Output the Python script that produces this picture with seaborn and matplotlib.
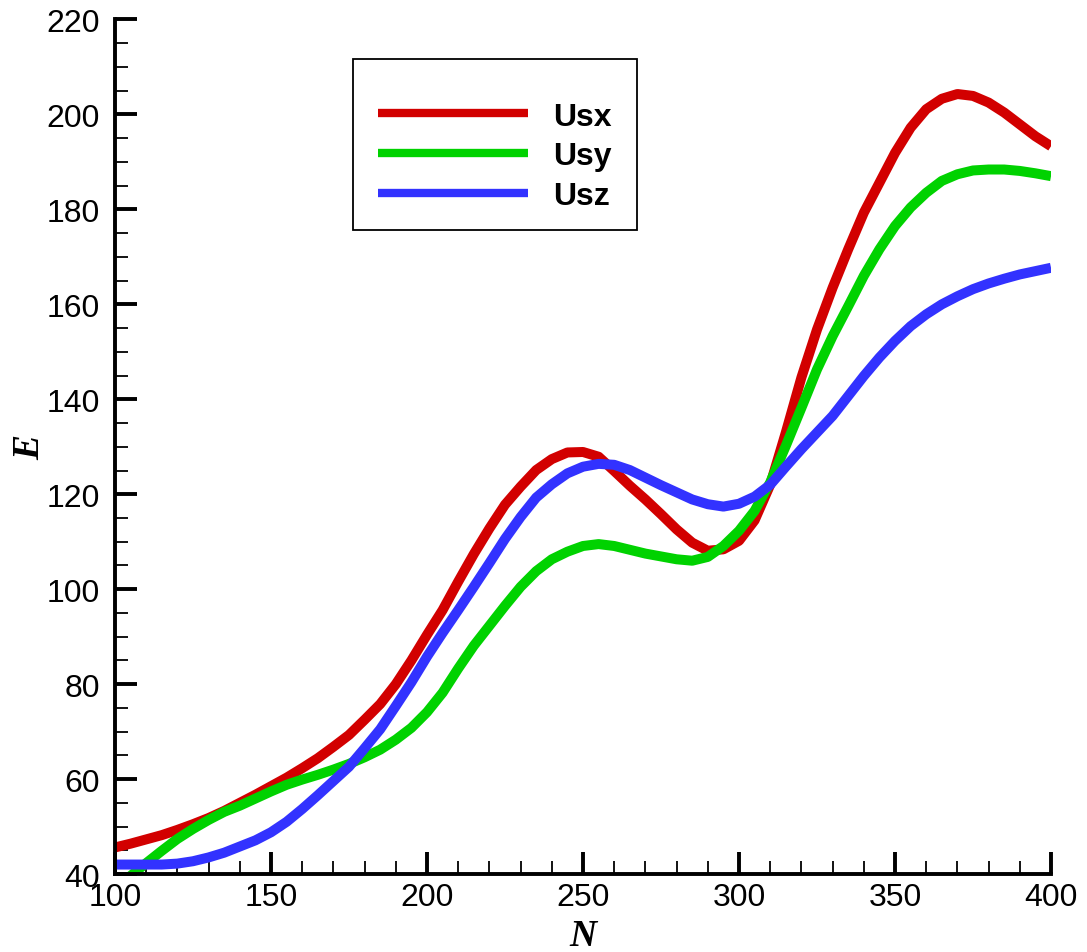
"""Energy E against N for the three Us components."""

import matplotlib
matplotlib.use("Agg")
import matplotlib.pyplot as plt
import numpy as np
import pandas as pd
import seaborn as sns
from matplotlib.patches import Rectangle
from matplotlib.ticker import MultipleLocator


n_values = [100, 105, 110, 115, 120, 125, 130, 135, 140, 145,
            150, 155, 160, 165, 170, 175, 180, 185, 190, 195,
            200, 205, 210, 215, 220, 225, 230, 235, 240, 245,
            250, 255, 260, 265, 270, 275, 280, 285, 290, 295,
            300, 305, 310, 315, 320, 325, 330, 335, 340, 345,
            350, 355, 360, 365, 370, 375, 380, 385, 390, 395, 400]

usx = [45.6, 46.4, 47.3, 48.2, 49.3, 50.5, 51.8, 53.3, 55.0, 56.7,
       58.5, 60.3, 62.3, 64.4, 66.8, 69.3, 72.5, 75.8, 80.0, 85.0,
       90.4, 95.6, 101.6, 107.4, 112.8, 117.8, 121.6, 125.1, 127.4, 128.8,
       128.9, 127.9, 124.9, 121.8, 118.9, 115.8, 112.6, 109.8, 108.1, 108.4,
       110.2, 114.5, 122.0, 133.0, 144.6, 154.7, 163.5, 171.6, 179.3, 185.6,
       191.9, 197.2, 201.1, 203.3, 204.3, 203.9, 202.5, 200.4, 197.9, 195.4, 193.3]

usy = [37.5, 39.6, 42.3, 44.9, 47.4, 49.5, 51.4, 53.1, 54.4, 55.9,
       57.4, 58.8, 59.9, 60.9, 62.0, 63.2, 64.6, 66.2, 68.3, 70.8,
       74.1, 78.2, 83.3, 88.1, 92.3, 96.5, 100.5, 103.8, 106.3, 107.9,
       109.1, 109.5, 109.1, 108.3, 107.5, 106.9, 106.3, 106.0, 106.8, 109.1,
       112.3, 116.5, 122.5, 130.2, 138.2, 146.3, 153.3, 159.6, 166.0, 171.6,
       176.5, 180.4, 183.5, 186.0, 187.4, 188.2, 188.4, 188.4, 188.1, 187.6, 187.0]

usz = [42.0, 42.0, 42.0, 42.0, 42.2, 42.7, 43.5, 44.5, 45.8, 47.1,
       48.8, 51.0, 53.7, 56.6, 59.6, 62.6, 66.5, 70.5, 75.4, 80.4,
       85.8, 90.8, 95.6, 100.5, 105.5, 110.6, 115.2, 119.3, 122.1, 124.4,
       125.8, 126.4, 126.2, 125.1, 123.5, 121.9, 120.4, 118.9, 117.9, 117.4,
       118.0, 119.5, 122.0, 125.8, 129.5, 133.0, 136.5, 140.7, 144.9, 148.8,
       152.3, 155.4, 157.9, 160.0, 161.7, 163.2, 164.4, 165.4, 166.3, 167.0, 167.7]

series_names = ["Usx", "Usy", "Usz"]
series_colors = ["#d20000", "#00d200", "#3232ff"]

df = pd.DataFrame({
    "N": n_values * 3,
    "E": usx + usy + usz,
    "series": np.repeat(series_names, len(n_values)),
})

sns.set_theme(style="ticks", rc={
    "text.color": "black",
    "axes.labelcolor": "black",
    "xtick.color": "black",
    "ytick.color": "black",
    "axes.edgecolor": "black",
})
plt.rcParams["font.family"] = ["Liberation Sans", "DejaVu Sans"]

fig = plt.figure(figsize=(10.87, 9.53), dpi=100)
ax = fig.add_axes([0.1058, 0.0818, 0.8611, 0.8967])

sns.lineplot(data=df, x="N", y="E", hue="series", palette=series_colors,
             hue_order=series_names, linewidth=7.2, ax=ax, legend=False,
             solid_capstyle="butt")

ax.set_xlim(100, 400)
ax.set_ylim(40, 220)
ax.xaxis.set_major_locator(MultipleLocator(50))
ax.xaxis.set_minor_locator(MultipleLocator(10))
ax.yaxis.set_major_locator(MultipleLocator(20))
ax.yaxis.set_minor_locator(MultipleLocator(5))

for side in ["top", "right"]:
    ax.spines[side].set_visible(False)
for side in ["left", "bottom"]:
    ax.spines[side].set_linewidth(2.8)

ax.tick_params(which="both", direction="in", bottom=True, left=True,
               top=False, right=False)
ax.tick_params(which="major", length=16, width=2.8, labelsize=23)
ax.tick_params(which="minor", length=9.5, width=1.3)
ax.tick_params(axis="y", which="major", pad=11)
ax.tick_params(axis="x", which="major", pad=6)

label_font = dict(family="Liberation Serif", style="italic",
                  weight="bold", size=27)
ax.set_xlabel("N", **label_font)
ax.set_ylabel("E", **label_font)
ax.xaxis.set_label_coords(0.5, -0.052)
ax.yaxis.set_label_coords(-0.0727, 0.5)

# legend entries without frame, the box is drawn separately (uneven padding)
handles = [plt.Line2D([], [], color=c, linewidth=6, solid_capstyle="butt")
           for c in series_colors]
ax.legend(handles, series_names, loc="center",
          bbox_to_anchor=(0.406, 0.840), frameon=False,
          handlelength=4.67, handletextpad=0.8, labelspacing=0.3,
          prop=dict(family="Liberation Sans", weight="bold", size=23))
ax.add_patch(Rectangle((0.2543, 0.7532), 0.3034, 0.2, transform=ax.transAxes,
                       facecolor="none", edgecolor="black", linewidth=1.3,
                       zorder=6))

fig.savefig("out.png", dpi=100)
